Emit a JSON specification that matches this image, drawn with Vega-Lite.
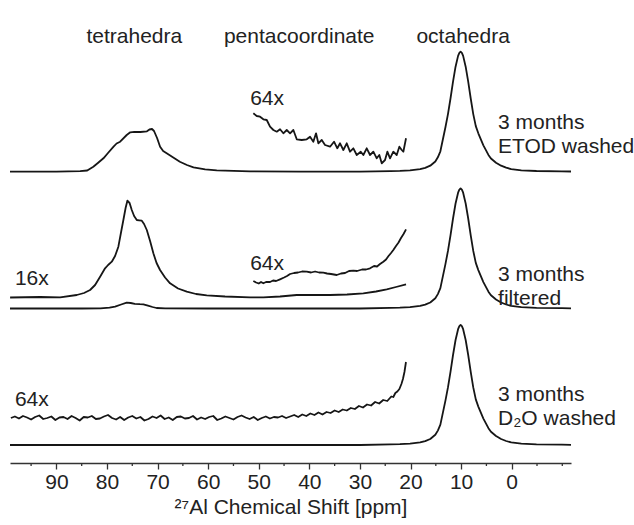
{
  "$schema": "https://vega.github.io/schema/vega-lite/v6.json",
  "width": 561,
  "height": 463,
  "autosize": {"type": "none"},
  "padding": {"left": 10, "top": 0, "right": 63, "bottom": 62},
  "background": "white",
  "config": {
    "view": {"stroke": null},
    "font": "Liberation Sans",
    "text": {"font": "Liberation Sans", "fontSize": 21, "color": "#222222"}
  },
  "datasets": {
    "minorTicks": [{"ppm":95},{"ppm":85},{"ppm":75},{"ppm":65},{"ppm":55},{"ppm":45},{"ppm":35},{"ppm":25},{"ppm":15},{"ppm":5},{"ppm":-5},{"ppm":-10}],
    "spectra": [
      {"trace":"A1","ppm":99.17,"y":291.3},{"trace":"A1","ppm":90,"y":291.4},{"trace":"A1","ppm":85.3,"y":291.8},{"trace":"A1","ppm":83.9,"y":292.5},{"trace":"A1","ppm":82.7,"y":296.3},{"trace":"A1","ppm":81.8,"y":300},{"trace":"A1","ppm":80.7,"y":304.7},{"trace":"A1","ppm":79.8,"y":310},{"trace":"A1","ppm":78.7,"y":316.3},{"trace":"A1","ppm":78.1,"y":319.5},{"trace":"A1","ppm":77.4,"y":321.3},{"trace":"A1","ppm":76.1,"y":328},{"trace":"A1","ppm":75.4,"y":330.7},{"trace":"A1","ppm":74.6,"y":331.2},{"trace":"A1","ppm":73.4,"y":331},{"trace":"A1","ppm":72.1,"y":331.7},{"trace":"A1","ppm":71.6,"y":333.5},{"trace":"A1","ppm":71.1,"y":334},{"trace":"A1","ppm":70.7,"y":332},{"trace":"A1","ppm":70.1,"y":325},{"trace":"A1","ppm":69.5,"y":316.3},{"trace":"A1","ppm":68.9,"y":312},{"trace":"A1","ppm":68.2,"y":309.7},{"trace":"A1","ppm":66.9,"y":305.5},{"trace":"A1","ppm":65.6,"y":301.3},{"trace":"A1","ppm":64.2,"y":298},{"trace":"A1","ppm":62.9,"y":295.7},{"trace":"A1","ppm":60.6,"y":293.7},{"trace":"A1","ppm":58.3,"y":292.7},{"trace":"A1","ppm":51.7,"y":291.7},{"trace":"A1","ppm":41.8,"y":291.4},{"trace":"A1","ppm":30,"y":291.4},
      {"trace":"A1","ppm":24,"y":291.9},{"trace":"A1","ppm":22.1,"y":292.1},{"trace":"A1","ppm":20.1,"y":292.7},{"trace":"A1","ppm":18.1,"y":293.9},{"trace":"A1","ppm":17.1,"y":295.1},{"trace":"A1","ppm":16.1,"y":297.3},{"trace":"A1","ppm":15.1,"y":301.5},{"trace":"A1","ppm":14.6,"y":305.7},{"trace":"A1","ppm":14.1,"y":311.7},{"trace":"A1","ppm":13.6,"y":323.7},{"trace":"A1","ppm":13.1,"y":335.7},{"trace":"A1","ppm":12.6,"y":348.9},{"trace":"A1","ppm":12.1,"y":364.5},{"trace":"A1","ppm":11.6,"y":381.3},{"trace":"A1","ppm":11.1,"y":396.3},{"trace":"A1","ppm":10.6,"y":407.1},{"trace":"A1","ppm":10.35,"y":410.1},{"trace":"A1","ppm":10.1,"y":411.3},{"trace":"A1","ppm":9.85,"y":410.1},{"trace":"A1","ppm":9.6,"y":407.1},{"trace":"A1","ppm":9.1,"y":396.3},{"trace":"A1","ppm":8.6,"y":381.3},{"trace":"A1","ppm":8.1,"y":364.5},{"trace":"A1","ppm":7.6,"y":348.9},{"trace":"A1","ppm":7.1,"y":336.9},{"trace":"A1","ppm":6.6,"y":329.7},{"trace":"A1","ppm":6.1,"y":323.7},{"trace":"A1","ppm":5.6,"y":317.7},{"trace":"A1","ppm":5.1,"y":312.9},{"trace":"A1","ppm":4.6,"y":308.1},{"trace":"A1","ppm":4.1,"y":304.5},{"trace":"A1","ppm":3.1,"y":300.3},{"trace":"A1","ppm":2.1,"y":297.3},{"trace":"A1","ppm":1.1,"y":295.3},{"trace":"A1","ppm":0.1,"y":293.9},{"trace":"A1","ppm":-1.9,"y":292.7},{"trace":"A1","ppm":-4.9,"y":292.0},{"trace":"A1","ppm":-9.9,"y":291.7},{"trace":"A1","ppm":-11.72,"y":291.5},

      {"trace":"A64","ppm":51.07,"y":349.7},{"trace":"A64","ppm":50.40,"y":347},{"trace":"A64","ppm":49.74,"y":346.3},{"trace":"A64","ppm":49.09,"y":343.7},{"trace":"A64","ppm":48.42,"y":343},{"trace":"A64","ppm":47.77,"y":336.3},{"trace":"A64","ppm":47.11,"y":333},{"trace":"A64","ppm":46.44,"y":331.3},{"trace":"A64","ppm":45.79,"y":333.7},{"trace":"A64","ppm":45.14,"y":329.7},{"trace":"A64","ppm":44.47,"y":333},{"trace":"A64","ppm":43.81,"y":329.7},{"trace":"A64","ppm":43.16,"y":333},{"trace":"A64","ppm":42.49,"y":323.7},{"trace":"A64","ppm":41.50,"y":323},{"trace":"A64","ppm":40.51,"y":323.7},{"trace":"A64","ppm":39.86,"y":326.3},{"trace":"A64","ppm":39.21,"y":321.3},{"trace":"A64","ppm":38.68,"y":329.7},{"trace":"A64","ppm":38.22,"y":319.7},{"trace":"A64","ppm":37.55,"y":323},{"trace":"A64","ppm":36.90,"y":318},{"trace":"A64","ppm":35.91,"y":316.3},{"trace":"A64","ppm":35.12,"y":321.3},{"trace":"A64","ppm":34.47,"y":314.7},{"trace":"A64","ppm":33.93,"y":319.7},{"trace":"A64","ppm":33.28,"y":313},{"trace":"A64","ppm":32.61,"y":319.7},{"trace":"A64","ppm":31.96,"y":311.3},{"trace":"A64","ppm":31.30,"y":314.7},{"trace":"A64","ppm":30.63,"y":308},{"trace":"A64","ppm":29.84,"y":311.3},{"trace":"A64","ppm":29.33,"y":308},{"trace":"A64","ppm":28.66,"y":314.7},{"trace":"A64","ppm":28.00,"y":308},{"trace":"A64","ppm":27.35,"y":311.3},{"trace":"A64","ppm":26.68,"y":304.7},{"trace":"A64","ppm":26.17,"y":308},{"trace":"A64","ppm":25.69,"y":299.7},{"trace":"A64","ppm":25.04,"y":303},{"trace":"A64","ppm":24.58,"y":311.3},{"trace":"A64","ppm":24.05,"y":304.7},{"trace":"A64","ppm":23.40,"y":311.3},{"trace":"A64","ppm":22.73,"y":308},{"trace":"A64","ppm":22.21,"y":316.3},{"trace":"A64","ppm":21.74,"y":313},{"trace":"A64","ppm":21.42,"y":311.3},{"trace":"A64","ppm":20.89,"y":324.7},

      {"trace":"B1","ppm":99.17,"y":154.5},{"trace":"B1","ppm":85,"y":154.5},{"trace":"B1","ppm":81.3,"y":154.7},{"trace":"B1","ppm":79.5,"y":155.3},{"trace":"B1","ppm":78.4,"y":156.3},{"trace":"B1","ppm":77.2,"y":158.5},{"trace":"B1","ppm":76.1,"y":160.3},{"trace":"B1","ppm":75.3,"y":160.0},{"trace":"B1","ppm":74.5,"y":159.2},{"trace":"B1","ppm":73.5,"y":158.8},{"trace":"B1","ppm":72.8,"y":158.6},{"trace":"B1","ppm":71.9,"y":157.4},{"trace":"B1","ppm":71.0,"y":156},{"trace":"B1","ppm":70.2,"y":155},{"trace":"B1","ppm":68.5,"y":154.6},{"trace":"B1","ppm":60,"y":154.5},{"trace":"B1","ppm":30,"y":154.5},
      {"trace":"B1","ppm":24,"y":155.1},{"trace":"B1","ppm":22.1,"y":155.3},{"trace":"B1","ppm":20.1,"y":155.9},{"trace":"B1","ppm":18.1,"y":157.1},{"trace":"B1","ppm":17.1,"y":158.3},{"trace":"B1","ppm":16.1,"y":160.5},{"trace":"B1","ppm":15.1,"y":164.7},{"trace":"B1","ppm":14.6,"y":168.9},{"trace":"B1","ppm":14.1,"y":174.9},{"trace":"B1","ppm":13.6,"y":186.9},{"trace":"B1","ppm":13.1,"y":198.9},{"trace":"B1","ppm":12.6,"y":212.1},{"trace":"B1","ppm":12.1,"y":227.7},{"trace":"B1","ppm":11.6,"y":244.5},{"trace":"B1","ppm":11.1,"y":259.5},{"trace":"B1","ppm":10.6,"y":270.3},{"trace":"B1","ppm":10.35,"y":273.3},{"trace":"B1","ppm":10.1,"y":274.5},{"trace":"B1","ppm":9.85,"y":273.3},{"trace":"B1","ppm":9.6,"y":270.3},{"trace":"B1","ppm":9.1,"y":259.5},{"trace":"B1","ppm":8.6,"y":244.5},{"trace":"B1","ppm":8.1,"y":227.7},{"trace":"B1","ppm":7.6,"y":212.1},{"trace":"B1","ppm":7.1,"y":200.1},{"trace":"B1","ppm":6.6,"y":192.9},{"trace":"B1","ppm":6.1,"y":186.9},{"trace":"B1","ppm":5.6,"y":180.9},{"trace":"B1","ppm":5.1,"y":176.1},{"trace":"B1","ppm":4.6,"y":171.3},{"trace":"B1","ppm":4.1,"y":167.7},{"trace":"B1","ppm":3.1,"y":163.5},{"trace":"B1","ppm":2.1,"y":160.5},{"trace":"B1","ppm":1.1,"y":158.5},{"trace":"B1","ppm":0.1,"y":157.1},{"trace":"B1","ppm":-1.9,"y":155.9},{"trace":"B1","ppm":-4.9,"y":155.2},{"trace":"B1","ppm":-9.9,"y":154.9},{"trace":"B1","ppm":-11.72,"y":154.7},

      {"trace":"B16","ppm":99.15,"y":165.5},{"trace":"B16","ppm":93.22,"y":166},{"trace":"B16","ppm":89.27,"y":165.7},{"trace":"B16","ppm":85.97,"y":168},{"trace":"B16","ppm":84.53,"y":170},{"trace":"B16","ppm":83.34,"y":173},{"trace":"B16","ppm":82.35,"y":178},{"trace":"B16","ppm":81.36,"y":186.3},{"trace":"B16","ppm":80.38,"y":194.7},{"trace":"B16","ppm":79.78,"y":198},{"trace":"B16","ppm":79.05,"y":201.3},{"trace":"B16","ppm":78.40,"y":207},{"trace":"B16","ppm":77.75,"y":216.3},{"trace":"B16","ppm":77.21,"y":231},{"trace":"B16","ppm":76.76,"y":243},{"trace":"B16","ppm":76.32,"y":255},{"trace":"B16","ppm":75.97,"y":262.3},{"trace":"B16","ppm":75.53,"y":260},{"trace":"B16","ppm":75.10,"y":253},{"trace":"B16","ppm":74.64,"y":247},{"trace":"B16","ppm":74.11,"y":243},{"trace":"B16","ppm":73.66,"y":242.7},{"trace":"B16","ppm":73.12,"y":242.3},{"trace":"B16","ppm":72.67,"y":239},{"trace":"B16","ppm":72.13,"y":233},{"trace":"B16","ppm":71.48,"y":222},{"trace":"B16","ppm":70.83,"y":209.7},{"trace":"B16","ppm":70.20,"y":200},{"trace":"B16","ppm":69.51,"y":193},{"trace":"B16","ppm":68.52,"y":185.5},{"trace":"B16","ppm":67.53,"y":179.7},{"trace":"B16","ppm":65.95,"y":174.5},{"trace":"B16","ppm":64.23,"y":171.3},{"trace":"B16","ppm":62.39,"y":169},{"trace":"B16","ppm":60.28,"y":167.7},{"trace":"B16","ppm":56.66,"y":166.5},{"trace":"B16","ppm":51.72,"y":165.7},{"trace":"B16","ppm":49.09,"y":165.7},{"trace":"B16","ppm":45.79,"y":166.5},{"trace":"B16","ppm":42.49,"y":168},{"trace":"B16","ppm":39.27,"y":168},{"trace":"B16","ppm":35.91,"y":168},{"trace":"B16","ppm":32.55,"y":168.5},{"trace":"B16","ppm":29.33,"y":169.7},{"trace":"B16","ppm":26.82,"y":171.5},{"trace":"B16","ppm":24.70,"y":173.7},{"trace":"B16","ppm":22.87,"y":176},{"trace":"B16","ppm":20.89,"y":178.7},

      {"trace":"B64","ppm":51.07,"y":182},{"trace":"B64","ppm":50.53,"y":180.5},{"trace":"B64","ppm":50.0,"y":179.5},{"trace":"B64","ppm":49.55,"y":181},{"trace":"B64","ppm":49.09,"y":179.7},{"trace":"B64","ppm":48.56,"y":181},{"trace":"B64","ppm":47.77,"y":181},{"trace":"B64","ppm":47.17,"y":182.5},{"trace":"B64","ppm":46.58,"y":182},{"trace":"B64","ppm":45.79,"y":183.7},{"trace":"B64","ppm":45.0,"y":185.5},{"trace":"B64","ppm":44.41,"y":187},{"trace":"B64","ppm":43.81,"y":189},{"trace":"B64","ppm":43.02,"y":190},{"trace":"B64","ppm":42.23,"y":190.5},{"trace":"B64","ppm":41.44,"y":191.5},{"trace":"B64","ppm":40.51,"y":191.3},{"trace":"B64","ppm":39.66,"y":190.5},{"trace":"B64","ppm":38.87,"y":191.5},{"trace":"B64","ppm":38.08,"y":190.5},{"trace":"B64","ppm":37.23,"y":190.3},{"trace":"B64","ppm":36.50,"y":189.5},{"trace":"B64","ppm":35.71,"y":189},{"trace":"B64","ppm":34.59,"y":188},{"trace":"B64","ppm":33.74,"y":189.5},{"trace":"B64","ppm":32.94,"y":190},{"trace":"B64","ppm":32.15,"y":192},{"trace":"B64","ppm":31.30,"y":192.3},{"trace":"B64","ppm":30.57,"y":192},{"trace":"B64","ppm":29.58,"y":193.5},{"trace":"B64","ppm":28.79,"y":193.5},{"trace":"B64","ppm":28.00,"y":194.7},{"trace":"B64","ppm":27.21,"y":197},{"trace":"B64","ppm":26.62,"y":196.5},{"trace":"B64","ppm":26.03,"y":199},{"trace":"B64","ppm":25.38,"y":201.3},{"trace":"B64","ppm":24.84,"y":203.5},{"trace":"B64","ppm":24.35,"y":207},{"trace":"B64","ppm":23.85,"y":210},{"trace":"B64","ppm":23.40,"y":213},{"trace":"B64","ppm":22.87,"y":217},{"trace":"B64","ppm":22.37,"y":220.5},{"trace":"B64","ppm":21.88,"y":225},{"trace":"B64","ppm":21.38,"y":229},{"trace":"B64","ppm":20.89,"y":233.7},

      {"trace":"C1","ppm":99.17,"y":18},{"trace":"C1","ppm":60,"y":18},{"trace":"C1","ppm":30,"y":18},
      {"trace":"C1","ppm":24,"y":18.6},{"trace":"C1","ppm":22.1,"y":18.8},{"trace":"C1","ppm":20.1,"y":19.4},{"trace":"C1","ppm":18.1,"y":20.6},{"trace":"C1","ppm":17.1,"y":21.8},{"trace":"C1","ppm":16.1,"y":24.0},{"trace":"C1","ppm":15.1,"y":28.2},{"trace":"C1","ppm":14.6,"y":32.4},{"trace":"C1","ppm":14.1,"y":38.4},{"trace":"C1","ppm":13.6,"y":50.4},{"trace":"C1","ppm":13.1,"y":62.4},{"trace":"C1","ppm":12.6,"y":75.6},{"trace":"C1","ppm":12.1,"y":91.2},{"trace":"C1","ppm":11.6,"y":108},{"trace":"C1","ppm":11.1,"y":123},{"trace":"C1","ppm":10.6,"y":133.8},{"trace":"C1","ppm":10.35,"y":136.8},{"trace":"C1","ppm":10.1,"y":138},{"trace":"C1","ppm":9.85,"y":136.8},{"trace":"C1","ppm":9.6,"y":133.8},{"trace":"C1","ppm":9.1,"y":123},{"trace":"C1","ppm":8.6,"y":108},{"trace":"C1","ppm":8.1,"y":91.2},{"trace":"C1","ppm":7.6,"y":75.6},{"trace":"C1","ppm":7.1,"y":63.6},{"trace":"C1","ppm":6.6,"y":56.4},{"trace":"C1","ppm":6.1,"y":50.4},{"trace":"C1","ppm":5.6,"y":44.4},{"trace":"C1","ppm":5.1,"y":39.6},{"trace":"C1","ppm":4.6,"y":34.8},{"trace":"C1","ppm":4.1,"y":31.2},{"trace":"C1","ppm":3.1,"y":27.0},{"trace":"C1","ppm":2.1,"y":24.0},{"trace":"C1","ppm":1.1,"y":22.0},{"trace":"C1","ppm":0.1,"y":20.6},{"trace":"C1","ppm":-1.9,"y":19.4},{"trace":"C1","ppm":-4.9,"y":18.7},{"trace":"C1","ppm":-9.9,"y":18.4},{"trace":"C1","ppm":-11.72,"y":18.2},

      {"trace":"C64","ppm":99.0,"y":45.0},{"trace":"C64","ppm":98.2,"y":46.5},{"trace":"C64","ppm":97.4,"y":44.5},{"trace":"C64","ppm":96.6,"y":47.0},{"trace":"C64","ppm":95.8,"y":45.5},{"trace":"C64","ppm":95.0,"y":43.5},{"trace":"C64","ppm":94.2,"y":46.0},{"trace":"C64","ppm":93.4,"y":47.5},{"trace":"C64","ppm":92.6,"y":44.0},{"trace":"C64","ppm":91.8,"y":45.0},{"trace":"C64","ppm":91.0,"y":46.5},{"trace":"C64","ppm":90.2,"y":43.0},{"trace":"C64","ppm":89.4,"y":45.5},{"trace":"C64","ppm":88.6,"y":46.0},{"trace":"C64","ppm":87.8,"y":44.0},{"trace":"C64","ppm":87.0,"y":47.0},{"trace":"C64","ppm":86.2,"y":45.0},{"trace":"C64","ppm":85.4,"y":42.5},{"trace":"C64","ppm":84.6,"y":46.0},{"trace":"C64","ppm":83.8,"y":45.5},{"trace":"C64","ppm":83.0,"y":47.0},{"trace":"C64","ppm":82.2,"y":44.0},{"trace":"C64","ppm":81.4,"y":44.5},{"trace":"C64","ppm":80.6,"y":46.5},{"trace":"C64","ppm":79.8,"y":48.0},{"trace":"C64","ppm":79.0,"y":45.0},{"trace":"C64","ppm":78.2,"y":43.5},{"trace":"C64","ppm":77.4,"y":46.0},{"trace":"C64","ppm":76.6,"y":43.0},{"trace":"C64","ppm":75.8,"y":45.5},{"trace":"C64","ppm":75.0,"y":47.0},{"trace":"C64","ppm":74.2,"y":44.5},{"trace":"C64","ppm":73.4,"y":46.0},{"trace":"C64","ppm":72.6,"y":42.5},{"trace":"C64","ppm":71.8,"y":44.0},{"trace":"C64","ppm":71.0,"y":46.5},{"trace":"C64","ppm":70.2,"y":45.0},{"trace":"C64","ppm":69.4,"y":47.5},{"trace":"C64","ppm":68.6,"y":44.0},{"trace":"C64","ppm":67.8,"y":45.5},{"trace":"C64","ppm":67.0,"y":43.0},{"trace":"C64","ppm":66.2,"y":46.0},{"trace":"C64","ppm":65.4,"y":46.5},{"trace":"C64","ppm":64.6,"y":44.5},{"trace":"C64","ppm":63.8,"y":45.0},{"trace":"C64","ppm":63.0,"y":47.0},{"trace":"C64","ppm":62.2,"y":43.5},{"trace":"C64","ppm":61.4,"y":45.5},{"trace":"C64","ppm":60.6,"y":44.0},{"trace":"C64","ppm":59.8,"y":46.0},{"trace":"C64","ppm":59.0,"y":47.0},{"trace":"C64","ppm":58.2,"y":43.0},{"trace":"C64","ppm":57.4,"y":44.5},{"trace":"C64","ppm":56.6,"y":46.5},{"trace":"C64","ppm":55.8,"y":45.0},{"trace":"C64","ppm":55.0,"y":43.5},{"trace":"C64","ppm":54.2,"y":46.0},{"trace":"C64","ppm":53.4,"y":47.5},{"trace":"C64","ppm":52.6,"y":45.5},{"trace":"C64","ppm":51.8,"y":44.0},{"trace":"C64","ppm":51.0,"y":46.0},{"trace":"C64","ppm":50.2,"y":43.0},{"trace":"C64","ppm":49.4,"y":45.0},{"trace":"C64","ppm":48.6,"y":46.5},{"trace":"C64","ppm":47.8,"y":44.5},{"trace":"C64","ppm":47.0,"y":46.0},{"trace":"C64","ppm":46.2,"y":45.5},{"trace":"C64","ppm":45.4,"y":47.0},{"trace":"C64","ppm":44.6,"y":45.0},{"trace":"C64","ppm":43.8,"y":46.5},{"trace":"C64","ppm":43.0,"y":48.0},{"trace":"C64","ppm":42.2,"y":46.0},{"trace":"C64","ppm":41.4,"y":48.5},{"trace":"C64","ppm":40.6,"y":47.0},{"trace":"C64","ppm":39.8,"y":49.5},{"trace":"C64","ppm":39.0,"y":48.0},{"trace":"C64","ppm":38.2,"y":50.5},{"trace":"C64","ppm":37.4,"y":48.5},{"trace":"C64","ppm":36.6,"y":51.0},{"trace":"C64","ppm":35.8,"y":50.0},{"trace":"C64","ppm":35.0,"y":52.5},{"trace":"C64","ppm":34.2,"y":51.0},{"trace":"C64","ppm":33.4,"y":53.5},{"trace":"C64","ppm":32.6,"y":52.5},{"trace":"C64","ppm":31.8,"y":55.0},{"trace":"C64","ppm":31.0,"y":54.0},{"trace":"C64","ppm":30.2,"y":57.0},{"trace":"C64","ppm":29.4,"y":55.5},{"trace":"C64","ppm":28.6,"y":58.5},{"trace":"C64","ppm":27.8,"y":57.5},{"trace":"C64","ppm":27.0,"y":61.0},{"trace":"C64","ppm":26.2,"y":59.5},{"trace":"C64","ppm":25.4,"y":63.0},{"trace":"C64","ppm":24.6,"y":62.0},{"trace":"C64","ppm":23.8,"y":66.5},{"trace":"C64","ppm":23.4,"y":66.0},{"trace":"C64","ppm":23.0,"y":70.0},{"trace":"C64","ppm":22.6,"y":71.5},{"trace":"C64","ppm":22.2,"y":74.0},{"trace":"C64","ppm":21.8,"y":79.0},{"trace":"C64","ppm":21.5,"y":84.0},{"trace":"C64","ppm":21.2,"y":91.0},{"trace":"C64","ppm":20.9,"y":101.0}
    ]
  },
  "layer": [
    {
      "data": {"name": "spectra"},
      "mark": {"type": "line", "color": "#161616", "strokeWidth": 1.8, "strokeJoin": "round", "clip": false},
      "encoding": {
        "x": {
          "field": "ppm", "type": "quantitative",
          "scale": {"domain": [99.17, -11.72], "nice": false, "zero": false},
          "axis": {
            "values": [90, 80, 70, 60, 50, 40, 30, 20, 10, 0],
            "format": "d",
            "tickSize": 6,
            "grid": false,
            "domainColor": "#333333", "domainWidth": 1.5,
            "tickColor": "#333333", "tickWidth": 1.3,
            "labelFont": "Liberation Sans", "labelFontSize": 21, "labelColor": "#222222",
            "labelPadding": 2, "labelOverlap": false, "labelFlush": false,
            "title": "²⁷Al Chemical Shift [ppm]",
            "titleFont": "Liberation Sans", "titleFontSize": 21, "titleFontWeight": "normal",
            "titleColor": "#222222", "titlePadding": 4
          }
        },
        "y": {"field": "y", "type": "quantitative", "scale": {"domain": [0, 463], "nice": false, "zero": false}, "axis": null},
        "detail": {"field": "trace", "type": "nominal"}
      }
    },
    {
      "data": {"name": "minorTicks"},
      "mark": {"type": "rule", "color": "#333333", "strokeWidth": 1.3, "clip": false},
      "encoding": {
        "x": {"field": "ppm", "type": "quantitative"},
        "y": {"datum": 0, "type": "quantitative", "axis": null},
        "y2": {"datum": -3}
      }
    },
    {"data": {"values": [{}]}, "mark": {"type": "text", "align": "center", "baseline": "alphabetic"},
     "encoding": {"x": {"datum": 74.6, "type": "quantitative"}, "y": {"datum": 420, "type": "quantitative", "axis": null}, "text": {"value": "tetrahedra"}}},
    {"data": {"values": [{}]}, "mark": {"type": "text", "align": "center", "baseline": "alphabetic"},
     "encoding": {"x": {"datum": 42.0, "type": "quantitative"}, "y": {"datum": 420, "type": "quantitative", "axis": null}, "text": {"value": "pentacoordinate"}}},
    {"data": {"values": [{}]}, "mark": {"type": "text", "align": "center", "baseline": "alphabetic"},
     "encoding": {"x": {"datum": 9.6, "type": "quantitative"}, "y": {"datum": 420, "type": "quantitative", "axis": null}, "text": {"value": "octahedra"}}},
    {"data": {"values": [{}]}, "mark": {"type": "text", "align": "left", "baseline": "alphabetic"},
     "encoding": {"x": {"datum": 51.7, "type": "quantitative"}, "y": {"datum": 358, "type": "quantitative", "axis": null}, "text": {"value": "64x"}}},
    {"data": {"values": [{}]}, "mark": {"type": "text", "align": "left", "baseline": "alphabetic", "lineHeight": 24},
     "encoding": {"x": {"datum": 2.7, "type": "quantitative"}, "y": {"datum": 334, "type": "quantitative", "axis": null}, "text": {"value": ["3 months", "ETOD washed"]}}},
    {"data": {"values": [{}]}, "mark": {"type": "text", "align": "left", "baseline": "alphabetic"},
     "encoding": {"x": {"datum": 98.2, "type": "quantitative"}, "y": {"datum": 178, "type": "quantitative", "axis": null}, "text": {"value": "16x"}}},
    {"data": {"values": [{}]}, "mark": {"type": "text", "align": "left", "baseline": "alphabetic"},
     "encoding": {"x": {"datum": 51.7, "type": "quantitative"}, "y": {"datum": 193, "type": "quantitative", "axis": null}, "text": {"value": "64x"}}},
    {"data": {"values": [{}]}, "mark": {"type": "text", "align": "left", "baseline": "alphabetic", "lineHeight": 24},
     "encoding": {"x": {"datum": 2.7, "type": "quantitative"}, "y": {"datum": 182, "type": "quantitative", "axis": null}, "text": {"value": ["3 months", "filtered"]}}},
    {"data": {"values": [{}]}, "mark": {"type": "text", "align": "left", "baseline": "alphabetic"},
     "encoding": {"x": {"datum": 98.2, "type": "quantitative"}, "y": {"datum": 57, "type": "quantitative", "axis": null}, "text": {"value": "64x"}}},
    {"data": {"values": [{}]}, "mark": {"type": "text", "align": "left", "baseline": "alphabetic", "lineHeight": 24},
     "encoding": {"x": {"datum": 2.7, "type": "quantitative"}, "y": {"datum": 62, "type": "quantitative", "axis": null}, "text": {"value": ["3 months", "D₂O washed"]}}}
  ]
}
